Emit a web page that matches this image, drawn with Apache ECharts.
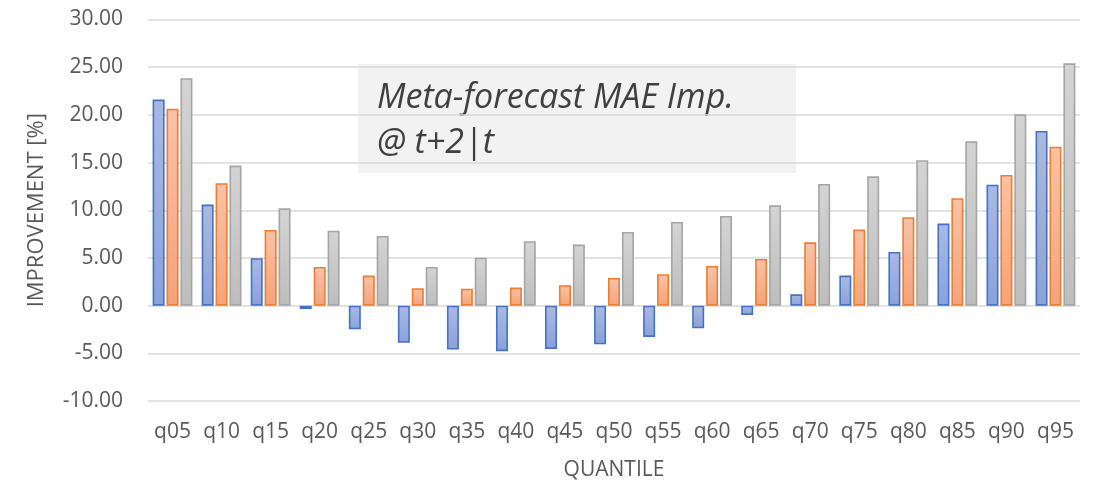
<!DOCTYPE html>
<html>
<head>
<meta charset="utf-8">
<script src="https://cdn.jsdelivr.net/npm/echarts@6/dist/echarts.min.js"></script>
<style>html,body{margin:0;padding:0;background:#fff;}#c{width:1094px;height:485px;}</style>
</head>
<body>
<div id="c"></div>
<script>
const categories = ['q05','q10','q15','q20','q25','q30','q35','q40','q45','q50','q55','q60','q65','q70','q75','q80','q85','q90','q95'];
const seriesBlue   = [21.6, 10.6, 4.97, -0.35, -2.48, -3.9, -4.6, -4.78, -4.54, -4.05, -3.28, -2.37, -0.97, 1.19, 3.15, 5.63, 8.6, 12.68, 18.31];
const seriesOrange = [20.65, 12.83, 7.93, 4.06, 3.15, 1.82, 1.78, 1.89, 2.14, 2.9, 3.29, 4.16, 4.9, 6.64, 7.97, 9.27, 11.26, 13.7, 16.67];
const seriesGray   = [23.85, 14.68, 10.2, 7.86, 7.3, 4.05, 5.03, 6.75, 6.4, 7.73, 8.77, 9.4, 10.52, 12.76, 13.56, 15.24, 17.23, 20.06, 25.41];
const yTicks = {min: -10, max: 30, interval: 5};
const titleLines = ['Meta-forecast MAE Imp.', '@ t+2|t'];

const font = '"Open Sans", sans-serif';
function grad(top, bottom) {
  return new echarts.graphic.LinearGradient(0, 0, 0, 1, [{offset: 0, color: top}, {offset: 1, color: bottom}]);
}
function mk(name, data, top, bottom, border) {
  return {
    name: name, type: 'bar', data: data, barWidth: 12, barGap: '16%',
    itemStyle: {color: grad(top, bottom), borderColor: border, borderWidth: 1.6},
    emphasis: {disabled: true}
  };
}
const chart = echarts.init(document.getElementById('c'), null, {renderer: 'canvas'});
chart.setOption({
  animation: false,
  backgroundColor: '#fff',
  grid: {left: 148, right: 14, top: 19.5, bottom: 84, containLabel: false, outerBoundsMode: 'none'},
  xAxis: {
    type: 'category', data: categories,
    axisLine: {show: false}, axisTick: {show: false},
    axisLabel: {color: '#595959', fontFamily: font, fontSize: 21, margin: 21},
    name: 'QUANTILE', nameLocation: 'middle', nameGap: 59,
    nameTextStyle: {color: '#595959', fontFamily: font, fontSize: 21}
  },
  yAxis: {
    type: 'value', min: yTicks.min, max: yTicks.max, interval: yTicks.interval,
    axisLine: {show: false}, axisTick: {show: false},
    axisLabel: {color: '#595959', fontFamily: font, fontSize: 21, margin: 25, formatter: v => v.toFixed(2)},
    splitLine: {lineStyle: {color: '#d9d9d9', width: 1.5}},
    name: 'IMPROVEMENT [%]', nameLocation: 'middle', nameGap: 100, nameRotate: 90,
    nameTextStyle: {color: '#595959', fontFamily: font, fontSize: 22}
  },
  series: [
    mk('A', seriesBlue, '#aab9e3', '#8aa2da', '#4472c4'),
    mk('B', seriesOrange, '#f8c3a7', '#f4a37a', '#ed7d31'),
    mk('C', seriesGray, '#d4d4d4', '#bdbdbd', '#a5a5a5')
  ],
  graphic: [{
    type: 'group', left: 358, top: 64, z: 100,
    children: [
      {type: 'rect', shape: {x: 0, y: 0, width: 438, height: 109}, style: {fill: '#f2f2f2'}},
      {type: 'text', x: 19, y: 12, style: {text: titleLines.join('\n'), font: 'italic 34px "Open Sans", sans-serif', fill: '#404040', lineHeight: 45}}
    ]
  }]
});
</script>
</body>
</html>
